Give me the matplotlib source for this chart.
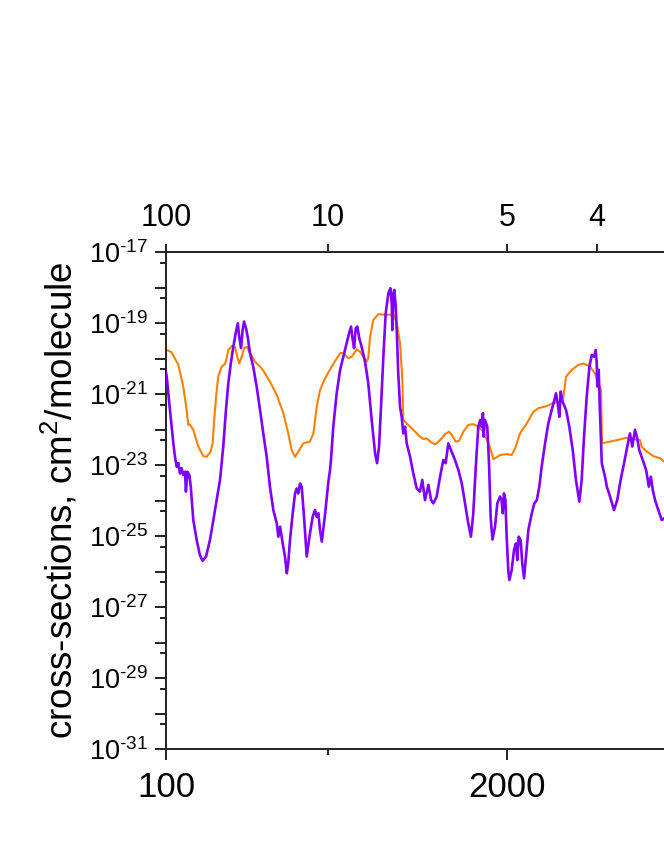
import numpy as np
import matplotlib
matplotlib.use("Agg")
import matplotlib.pyplot as plt
from matplotlib.ticker import FixedLocator, FuncFormatter, NullFormatter

plt.rcParams['font.family'] = ['Liberation Sans', 'DejaVu Sans']
plt.rcParams['mathtext.fontset'] = 'custom'
plt.rcParams['mathtext.rm'] = 'Liberation Sans'
plt.rcParams['mathtext.it'] = 'Liberation Sans:italic'
plt.rcParams['mathtext.bf'] = 'Liberation Sans:bold'

# ---------------- data (wavenumber, cm^-1 ; log10 cross-section) ----------------
orange_wn = [100, 104, 130, 169, 196, 215, 224, 228, 238, 252, 280, 308, 327, 349, 360,
             367, 379, 391, 410, 429, 438, 447, 466, 484, 497, 508, 522, 535, 550, 568,
             596, 624, 642, 679, 717, 754, 781, 800, 819, 837, 865, 902, 921, 940, 958,
             986, 1023, 1070, 1088, 1116, 1135, 1163, 1181, 1199, 1218, 1227, 1237, 1255,
             1283, 1320, 1367, 1386, 1404, 1417, 1422, 1441, 1478, 1515, 1534, 1552, 1580,
             1599, 1627, 1655, 1677, 1692, 1714, 1733, 1757, 1784, 1812, 1840, 1868, 1896,
             1905, 1924, 1961, 1998, 2026, 2045, 2072, 2110, 2147, 2175, 2221, 2258, 2295,
             2314, 2329, 2361, 2397, 2425, 2463, 2490, 2509, 2524, 2529, 2556, 2611, 2667,
             2741, 2750, 2778, 2815, 2853, 2875, 2900]
orange_log_sigma = [-19.76, -19.76, -19.82, -20.18, -20.79, -21.45, -21.87, -21.85, -21.90,
                    -22.01, -22.48, -22.75, -22.77, -22.62, -22.38, -21.82, -21.08, -20.51,
                    -20.23, -20.15, -19.99, -19.76, -19.65, -19.67, -19.95, -20.14, -19.95,
                    -19.71, -19.67, -19.85, -20.09, -20.23, -20.34, -20.65, -21.03, -21.54,
                    -22.11, -22.58, -22.77, -22.62, -22.39, -22.34, -22.11, -21.36, -20.89,
                    -20.56, -20.23, -19.85, -19.84, -19.99, -19.95, -19.74, -19.81, -19.95,
                    -20.09, -19.99, -19.39, -18.92, -18.75, -18.77, -18.76, -19.01, -19.57,
                    -20.61, -21.73, -21.83, -22.01, -22.20, -22.27, -22.25, -22.37, -22.42,
                    -22.30, -22.13, -22.06, -22.15, -22.34, -22.32, -22.06, -21.87, -21.85,
                    -21.92, -22.06, -22.39, -22.50, -22.84, -22.72, -22.69, -22.72, -22.53,
                    -22.11, -21.83, -21.50, -21.40, -21.34, -21.25, -21.22, -21.08, -20.51,
                    -20.32, -20.18, -20.14, -20.23, -20.42, -20.70, -20.89, -22.39, -22.36,
                    -22.30, -22.23, -22.30, -22.48, -22.62, -22.75, -22.81, -22.90, -22.95]

purple_wn = [100, 104, 122, 141, 150, 160, 169, 178, 187, 196, 206, 211, 219, 230, 238,
             252, 271, 289, 304, 323, 345, 364, 382, 401, 419, 434, 447, 461, 475, 490,
             500, 508, 518, 527, 535, 546, 555, 568, 586, 605, 624, 642, 661, 679, 698,
             717, 726, 736, 750, 763, 773, 781, 791, 806, 819, 828, 837, 847, 856, 869,
             884, 902, 917, 930, 940, 949, 958, 968, 986, 1004, 1014, 1019, 1032, 1051,
             1070, 1088, 1107, 1120, 1131, 1139, 1148, 1157, 1166, 1177, 1190, 1209, 1227,
             1246, 1265, 1276, 1287, 1298, 1311, 1324, 1339, 1350, 1358, 1361, 1367, 1372,
             1380, 1387, 1394, 1404, 1413, 1422, 1432, 1441, 1460, 1478, 1497, 1515, 1528,
             1543, 1562, 1577, 1590, 1608, 1627, 1645, 1658, 1673, 1688, 1710, 1729, 1748,
             1766, 1784, 1799, 1812, 1826, 1840, 1851, 1858, 1866, 1870, 1877, 1890, 1900,
             1909, 1919, 1933, 1946, 1961, 1970, 1976, 1983, 1991, 1998, 2007, 2013, 2026,
             2039, 2050, 2057, 2065, 2076, 2085, 2095, 2106, 2119, 2138, 2152, 2166, 2180,
             2193, 2212, 2230, 2249, 2264, 2273, 2282, 2292, 2299, 2310, 2329, 2347, 2366,
             2384, 2403, 2416, 2429, 2444, 2459, 2472, 2486, 2494, 2500, 2503, 2511, 2518,
             2528, 2537, 2546, 2556, 2574, 2596, 2614, 2633, 2652, 2670, 2685, 2698, 2713,
             2723, 2737, 2756, 2775, 2790, 2801, 2812, 2825, 2843, 2862, 2875, 2900]
purple_log_sigma = [-20.40, -20.51, -21.45, -22.39, -22.77, -23.05, -22.95, -23.24, -23.09,
                    -23.28, -23.19, -23.75, -23.19, -23.28, -23.61, -24.55, -25.11, -25.54,
                    -25.70, -25.58, -25.11, -24.55, -23.99, -23.42, -22.48, -21.45, -20.70,
                    -20.14, -19.67, -19.24, -19.01, -19.39, -19.71, -19.20, -18.96, -19.15,
                    -19.39, -19.85, -20.23, -20.79, -21.45, -22.11, -22.77, -23.61, -24.27,
                    -24.64, -25.02, -24.74, -25.21, -25.58, -26.05, -25.77, -25.11, -24.36,
                    -23.80, -23.66, -23.80, -23.52, -23.61, -24.46, -25.58, -24.93, -24.46,
                    -24.27, -24.46, -24.36, -24.83, -25.16, -24.40, -23.50, -23.14, -22.86,
                    -21.92, -20.98, -20.32, -19.95, -19.57, -19.29, -19.10, -19.43, -19.71,
                    -19.15, -19.10, -19.43, -19.67, -20.09, -20.70, -21.73, -22.67, -22.95,
                    -22.48, -21.36, -19.95, -18.73, -18.16, -18.02, -18.45, -19.20, -18.16,
                    -18.07, -18.54, -19.39, -20.42, -21.36, -21.64, -22.11, -21.92, -22.39,
                    -22.77, -23.24, -23.66, -23.75, -23.42, -23.99, -23.56, -23.99, -24.08,
                    -23.89, -23.33, -22.86, -22.95, -22.39, -22.58, -22.86, -23.14, -23.52,
                    -24.08, -24.64, -25.02, -24.36, -23.05, -21.92, -21.73, -21.92, -21.54,
                    -22.20, -21.73, -21.92, -23.00, -24.50, -25.10, -24.74, -24.08, -23.89,
                    -23.99, -24.36, -23.80, -23.99, -25.02, -25.96, -26.24, -25.96, -25.39,
                    -25.21, -25.68, -25.02, -25.11, -25.77, -26.19, -25.58, -24.83, -24.36,
                    -24.08, -23.99, -23.61, -23.05, -22.39, -21.83, -21.45, -21.17, -20.98,
                    -21.26, -21.64, -20.93, -21.22, -21.45, -21.92, -22.58, -23.42, -24.03,
                    -23.42, -22.20, -21.08, -20.23, -19.90, -19.95, -19.76, -20.14, -20.79,
                    -20.32, -21.54, -22.95, -23.14, -23.33, -23.61, -23.89, -24.27, -23.99,
                    -23.42, -22.95, -22.48, -22.11, -22.48, -22.01, -22.20, -22.58, -22.86,
                    -23.14, -23.61, -23.33, -23.70, -23.99, -24.27, -24.55, -24.50, -24.70]

bottom_major_ticks = [100, 2000]
bottom_minor_ticks = [1000]
top_wavelength_um = [100, 10, 5, 4]
y_decades = list(range(-31, -16))
y_labelled_exponents = [-31, -29, -27, -25, -23, -21, -19, -17]
x_range = (100, 3000)
y_range = (1e-31, 1e-17)

ORANGE = '#FF8000'
PURPLE = '#8000FF'
AXCOL = '#222222'

fig = plt.figure(figsize=(6.64, 8.6), dpi=100)
ax = fig.add_axes([166 / 664, 111 / 860, 520.5 / 664, 497 / 860])

ax.plot(orange_wn, 10 ** np.array(orange_log_sigma), color=ORANGE, lw=1.5, zorder=2)
ax.plot(purple_wn, 10 ** np.array(purple_log_sigma), color=PURPLE, lw=1.9, zorder=3)

ax.set_yscale('log')
ax.set_xlim(*x_range)
ax.set_ylim(*y_range)

# y ticks
ax.yaxis.set_major_locator(FixedLocator([10.0 ** n for n in y_decades]))
def yfmt(v, pos):
    n = int(round(np.log10(v)))
    if n in y_labelled_exponents:
        return r'$\mathregular{10^{\text{-}%d}}$' % abs(n)
    return ''
ax.yaxis.set_major_formatter(FuncFormatter(yfmt))
ax.yaxis.set_minor_locator(FixedLocator([5 * 10.0 ** n for n in range(-32, -17)]))
ax.yaxis.set_minor_formatter(NullFormatter())

# x ticks
ax.xaxis.set_major_locator(FixedLocator(bottom_major_ticks))
ax.xaxis.set_minor_locator(FixedLocator(bottom_minor_ticks))
ax.set_xticklabels([str(v) for v in bottom_major_ticks])

for s in ['left', 'bottom', 'top']:
    ax.spines[s].set_linewidth(1.4)
    ax.spines[s].set_color(AXCOL)
ax.spines['right'].set_visible(False)

ax.tick_params(axis='y', which='major', direction='out', length=8, width=1.4,
               color=AXCOL, labelsize=19.5, pad=5)
ax.tick_params(axis='y', which='minor', direction='out', length=4, width=1.4, color=AXCOL)
ax.tick_params(axis='x', which='major', direction='out', length=8, width=1.4,
               color=AXCOL, labelsize=25, pad=8)
ax.tick_params(axis='x', which='minor', direction='out', length=4, width=1.4, color=AXCOL)

# top axis: wavelength in micrometres
ax2 = ax.twiny()
ax2.set_xlim(ax.get_xlim())
ax2.xaxis.set_major_locator(FixedLocator([1e4 / w for w in top_wavelength_um]))
ax2.set_xticklabels([str(w) for w in top_wavelength_um])
ax2.xaxis.set_minor_locator(FixedLocator([]))
ax2.tick_params(axis='x', which='major', direction='out', length=6, width=1.4,
                color=AXCOL, labelsize=22, pad=8)
for s in ax2.spines.values():
    s.set_visible(False)

ax.set_ylabel('cross-sections, cm$\\mathregular{^2}$/molecule', fontsize=26.5)
ax.yaxis.set_label_coords(-0.165, 0.5)

fig.savefig('out.png', dpi=100)
